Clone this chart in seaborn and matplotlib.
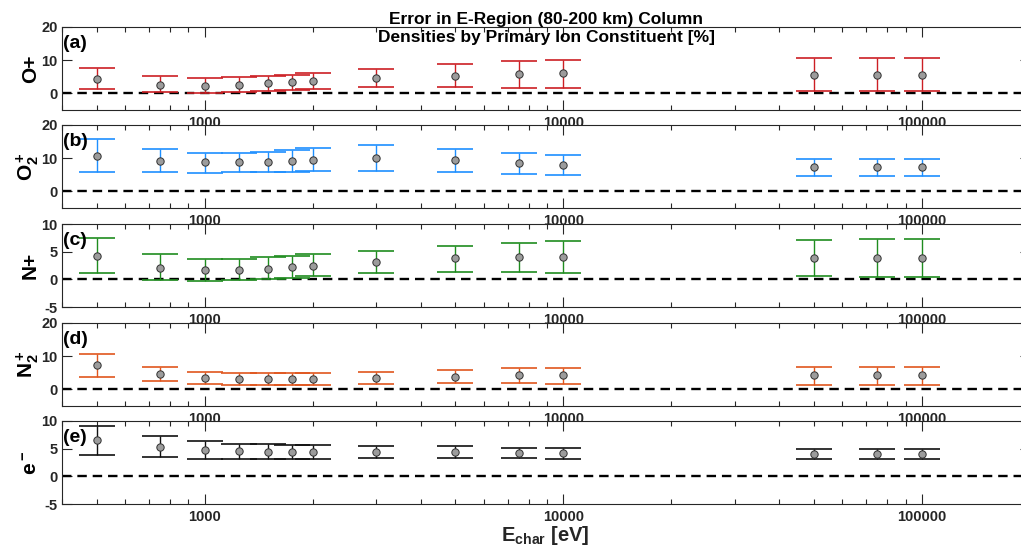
import numpy as np
import pandas as pd
import matplotlib
matplotlib.use("Agg")
import matplotlib.pyplot as plt
import seaborn as sns
from matplotlib.ticker import FixedLocator, FixedFormatter, LogLocator, NullFormatter

# ---------------- data ----------------
energy = [500, 750, 1000, 1250, 1500, 1750, 2000, 3000, 5000, 7500, 10000, 50000, 75000, 100000]

op_mid = [4.45, 2.6, 2.3, 2.6, 3.0, 3.3, 3.8, 4.75, 5.25, 5.75, 6.05, 5.65, 5.65, 5.65]
op_hi = [7.7, 5.2, 4.75, 4.95, 5.35, 5.65, 6.2, 7.4, 9.0, 9.7, 10.0, 10.7, 10.7, 10.7]
op_lo = [1.2, 0.3, 0.2, 0.5, 0.8, 1.1, 1.3, 1.9, 1.9, 1.7, 1.5, 0.8, 0.8, 0.8]

o2p_mid = [10.7, 9.2, 8.8, 8.8, 8.8, 9.1, 9.4, 10.0, 9.4, 8.5, 8.0, 7.4, 7.4, 7.4]
o2p_hi = [15.7, 12.8, 11.7, 11.7, 12.0, 12.6, 13.0, 13.9, 12.9, 11.7, 11.1, 9.9, 9.9, 9.9]
o2p_lo = [5.8, 5.8, 5.6, 5.7, 5.7, 5.9, 6.0, 6.2, 5.7, 5.3, 4.9, 4.6, 4.6, 4.6]

np_mid = [4.25, 2.1, 1.75, 1.75, 1.95, 2.3, 2.5, 3.15, 3.9, 4.05, 4.05, 3.9, 3.9, 3.9]
np_hi = [7.4, 4.5, 3.75, 3.65, 3.95, 4.2, 4.5, 5.2, 6.1, 6.6, 6.85, 7.15, 7.2, 7.2]
np_lo = [1.1, -0.1, -0.3, -0.2, 0.05, 0.3, 0.55, 1.2, 1.4, 1.33, 1.2, 0.55, 0.5, 0.42]

n2p_mid = [7.3, 4.7, 3.4, 3.1, 3.1, 3.1, 3.1, 3.4, 3.8, 4.2, 4.2, 4.2, 4.2, 4.2]
n2p_hi = [10.6, 6.6, 5.3, 4.8, 4.8, 4.8, 4.8, 5.2, 5.8, 6.4, 6.5, 6.8, 6.8, 6.8]
n2p_lo = [3.8, 2.4, 1.7, 1.4, 1.3, 1.3, 1.4, 1.7, 1.85, 1.85, 1.75, 1.3, 1.3, 1.3]

el_mid = [6.5, 5.3, 4.75, 4.6, 4.4, 4.4, 4.4, 4.4, 4.45, 4.25, 4.25, 4.1, 4.1, 4.1]
el_hi = [9.15, 7.2, 6.3, 5.9, 5.8, 5.7, 5.65, 5.55, 5.4, 5.2, 5.2, 5.0, 5.0, 5.0]
el_lo = [3.85, 3.45, 3.2, 3.15, 3.15, 3.15, 3.2, 3.3, 3.3, 3.25, 3.2, 3.1, 3.1, 3.1]

panel_tags = ["(a)", "(b)", "(c)", "(d)", "(e)"]
ion_labels = ["O+", r"$\mathbf{O_2^+}$", "N+", r"$\mathbf{N_2^+}$", r"$\mathbf{e^-}$"]
ylims = [(-5, 20), (-5, 20), (-5, 10), (-5, 20), (-5, 10)]
yticks = [[0, 10, 20], [0, 10, 20], [-5, 0, 5, 10], [0, 10, 20], [-5, 0, 5, 10]]
xtick_vals = [1000, 10000, 100000]
xtick_labels = ["1000", "10000", "100000"]
title_lines = ["Error in E-Region (80-200 km) Column", "Densities by Primary Ion Constituent [%]"]

series = [(op_mid, op_lo, op_hi), (o2p_mid, o2p_lo, o2p_hi), (np_mid, np_lo, np_hi),
          (n2p_mid, n2p_lo, n2p_hi), (el_mid, el_lo, el_hi)]
colors = ["#cc1f24", "#1e8fff", "#1f8c1f", "#e0561e", "#111111"]

# ---------------- style ----------------
sns.set_theme(style="ticks")
plt.rcParams["font.family"] = ["Liberation Sans", "DejaVu Sans"]
plt.rcParams["mathtext.fontset"] = "custom"
plt.rcParams["mathtext.rm"] = "Liberation Sans"
plt.rcParams["mathtext.bf"] = "Liberation Sans:bold"
plt.rcParams["mathtext.it"] = "Liberation Sans:italic"

W, H = 1021, 552
fig = plt.figure(figsize=(W / 100, H / 100), dpi=100)
fig.patch.set_facecolor("white")

tops = [27, 125, 224, 323, 421]
ax_h = 83
ax_left, ax_right = 62, 1030
axis_col = "#262626"
label_x = [36, 33, 36, 33, 36]

for i in range(5):
    mid, lo, hi = [np.asarray(a, dtype=float) for a in series[i]]
    ax = fig.add_axes([ax_left / W, 1 - (tops[i] + ax_h) / H, (ax_right - ax_left) / W, ax_h / H])
    ax.set_facecolor("white")
    ax.set_xscale("log")
    ax.axhline(0, color="black", lw=1.7, ls=(0, (4.0, 2.5)), zorder=1)
    ax.errorbar(energy, mid, yerr=[mid - lo, hi - mid], fmt="none", ecolor=colors[i],
                elinewidth=1.0, capsize=13.3, capthick=1.2, zorder=3)
    df = pd.DataFrame({"E": energy, "val": mid})
    sns.scatterplot(data=df, x="E", y="val", ax=ax, color="#9c9c9c", edgecolor="#303030",
                    linewidth=0.7, s=28, zorder=5, legend=False)
    ax.set_xlim(400, 200000)
    ax.set_ylim(*ylims[i])
    ax.set_xlabel("")
    ax.set_ylabel("")
    ax.xaxis.set_major_locator(FixedLocator(xtick_vals))
    ax.xaxis.set_major_formatter(FixedFormatter(xtick_labels))
    ax.xaxis.set_minor_locator(LogLocator(base=10, subs=np.arange(2, 10)))
    ax.xaxis.set_minor_formatter(NullFormatter())
    ax.set_yticks(yticks[i])
    ax.set_yticklabels([str(v) for v in yticks[i]])
    ax.tick_params(which="both", direction="in", top=True, right=True, bottom=True, left=True,
                   color=axis_col, labelcolor=axis_col, width=0.8)
    ax.tick_params(which="major", length=7)
    ax.tick_params(which="minor", length=3.5)
    ax.tick_params(axis="x", pad=4, labelsize=10.5)
    ax.tick_params(axis="y", pad=3, labelsize=10.5)
    for lab in ax.get_xticklabels() + ax.get_yticklabels():
        lab.set_fontweight("bold")
    for sp in ax.spines.values():
        sp.set_visible(True)
        sp.set_color(axis_col)
        sp.set_linewidth(0.8)
    ax.text(0.001, 1 - 8 / ax_h, panel_tags[i], transform=ax.transAxes, ha="left", va="top",
            fontsize=14, fontweight="bold", color="black", zorder=6)
    yc = 1 - (tops[i] + ax_h / 2) / H
    fig.text(label_x[i] / W, yc, ion_labels[i], rotation=90, rotation_mode="anchor", ha="center",
             va="baseline", fontsize=15, fontweight="bold", color="black")

fig.text(546 / W, 1 - 24 / H, title_lines[0], ha="center", va="baseline",
         fontsize=12.5, fontweight="bold", color="black")
fig.text(546 / W, 1 - 41.7 / H, title_lines[1], ha="center", va="baseline",
         fontsize=12.5, fontweight="bold", color="black")
fig.text(545 / W, 1 - 540.7 / H, r"$\mathbf{E_{char}}$ [eV]", ha="center", va="baseline",
         fontsize=14.5, fontweight="bold", color=axis_col)

fig.savefig("out.png", dpi=100, facecolor="white")
